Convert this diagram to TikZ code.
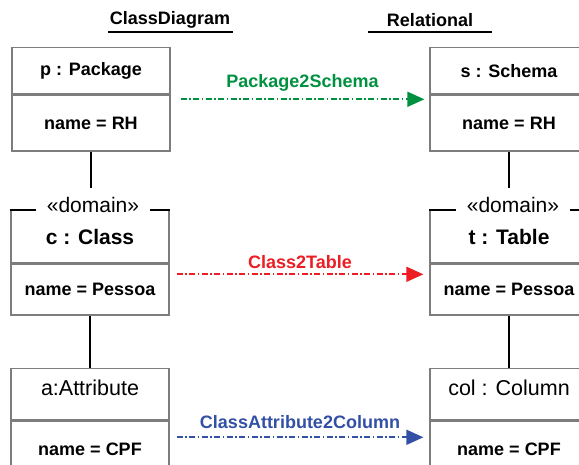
\documentclass[tikz,border=0pt]{standalone}
\usepackage{fontspec}
\setmainfont{Liberation Sans}
\usetikzlibrary{arrows.meta}
\definecolor{boxgray}{RGB}{125,125,125}
\definecolor{mapgreen}{RGB}{0,145,64}
\definecolor{mapred}{RGB}{236,30,36}
\definecolor{mapblue}{RGB}{50,80,165}
\tikzset{
    part/.style={
        draw=boxgray,
        line width=1.3pt,
        fill=white,
        minimum width=158pt,
        inner sep=0pt,
        anchor=north,
        text centered,
    },
    small/.style={font=\fontsize{18}{20}\selectfont\bfseries},
    big/.style={font=\fontsize{21.5}{24}\selectfont},
    bigbold/.style={font=\fontsize{21}{24}\selectfont\bfseries},
    stereo/.style={
        fill=white,
        font=\fontsize{21}{24}\selectfont,
        inner xsep=11pt,
        inner ysep=10pt,
        anchor=base,
    },
    title/.style={font=\fontsize{18}{20}\selectfont\bfseries},
    link/.style={line width=1.6pt, black},
    map/.style={
        line width=1.7pt,
        dash pattern=on 6pt off 2.5pt on 1.5pt off 2.5pt,
        -{Triangle[length=17pt,width=15pt]},
    },
    maplabel/.style={font=\fontsize{18}{20}\selectfont\bfseries, inner sep=0pt},
}
\begin{document}
\begin{tikzpicture}[x=1pt,y=-1pt]
    \useasboundingbox (0,0) rectangle (579,465);
    \clip (0,0) rectangle (579,465);

    % titles
    \node[title] (cdtitle) at (170,20) {ClassDiagram};
    \node[title] (reltitle) at (430,20) {Relational};
    \draw[line width=1.6pt] (108,32) -- (233,32);
    \draw[line width=1.6pt] (368,32) -- (492,32);

    % class diagram side
    \node[part, small, minimum height=46pt] (pkg) at (91,47) {p : Package};
    \node[part, small, minimum height=56pt] (pkgname) at (pkg.south) {name = RH};

    \node[part, bigbold, minimum height=52pt] (cls) at (90,210) {c : Class};
    \node[part, small, minimum height=51pt] (clsname) at (cls.south) {name = Pessoa};
    \draw[line width=1.6pt] (cls.north west) -- (cls.north east);
    \node[stereo] (clsdom) at ([xshift=3pt,yshift=-3pt]cls.north) {«domain»};

    \node[part, big, minimum height=51pt, text depth=12pt] (att) at (90,368) {a:Attribute};
    \node[part, small, minimum height=56pt] (attname) at (att.south) {name = CPF};

    % relational side
    \node[part, small, minimum height=46pt] (sch) at (509,47) {s : Schema};
    \node[part, small, minimum height=56pt] (schname) at (sch.south) {name = RH};

    \node[part, bigbold, minimum height=52pt] (tab) at (509,210) {t : Table};
    \node[part, small, minimum height=51pt] (tabname) at (tab.south) {name = Pessoa};
    \draw[line width=1.6pt] (tab.north west) -- (tab.north east);
    \node[stereo] (tabdom) at ([xshift=4pt,yshift=-3pt]tab.north) {«domain»};

    \node[part, big, minimum height=51pt, text depth=12pt] (col) at (509,368) {col : Column};
    \node[part, small, minimum height=56pt] (colname) at (col.south) {name = CPF};

    % links
    \draw[link] (pkgname.south) -- (pkgname.south |- clsdom.north);
    \draw[link] (clsname.south) -- (att.north);
    \draw[link] (schname.south) -- (schname.south |- tabdom.north);
    \draw[link] (tabname.south) -- (col.north);

    % mappings
    \draw[map, mapgreen] ([xshift=10pt,yshift=-5pt]pkgname.north east)
        -- ([xshift=-5pt,yshift=-5pt]schname.north west)
        node[maplabel, midway, above=7pt] {Package2Schema};
    \draw[map, mapred] ([xshift=7pt,yshift=-11pt]clsname.north east)
        -- ([xshift=-6pt,yshift=-11pt]tabname.north west)
        node[maplabel, midway, above=5pt] {Class2Table};
    \draw[map, mapblue] ([xshift=7pt,yshift=-17pt]attname.north east)
        -- ([xshift=-6pt,yshift=-17pt]colname.north west)
        node[maplabel, midway, above=8pt] {ClassAttribute2Column};
\end{tikzpicture}
\end{document}
